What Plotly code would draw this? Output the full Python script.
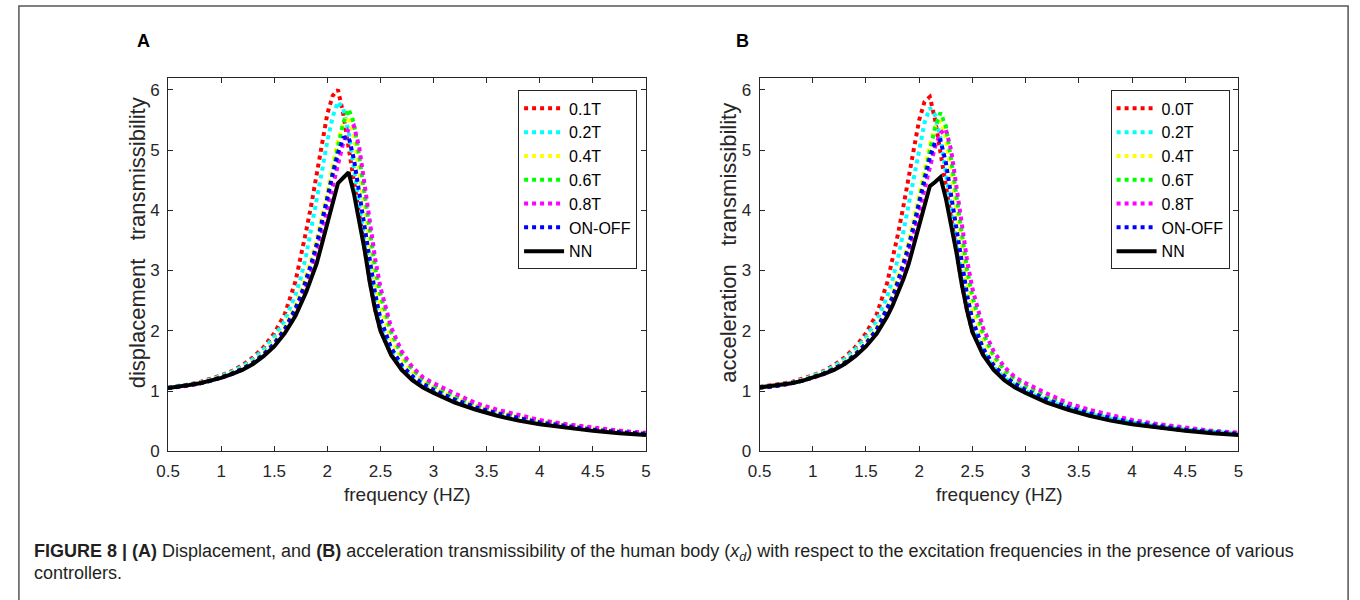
import plotly.graph_objects as go

# ---------------- data ----------------
freq = [0.5, 0.6, 0.7, 0.8, 0.9, 1.0, 1.1, 1.2, 1.3, 1.4,
        1.5, 1.6, 1.7, 1.75, 1.8, 1.85, 1.9, 1.95, 2.0, 2.05,
        2.1, 2.15, 2.2, 2.25, 2.3, 2.35, 2.4, 2.45, 2.5, 2.6,
        2.7, 2.8, 2.9, 3.0, 3.2, 3.4, 3.6, 3.8, 4.0, 4.25,
        4.5, 4.75, 5.0]

x_ticks = [0.5, 1, 1.5, 2, 2.5, 3, 3.5, 4, 4.5, 5]
x_tick_labels = ["0.5", "1", "1.5", "2", "2.5", "3", "3.5", "4", "4.5", "5"]
y_ticks = [0, 1, 2, 3, 4, 5, 6]
y_tick_labels = ["0", "1", "2", "3", "4", "5", "6"]

labels_a = ["0.1T", "0.2T", "0.4T", "0.6T", "0.8T", "ON-OFF", "NN"]
labels_b = ["0.0T", "0.2T", "0.4T", "0.6T", "0.8T", "ON-OFF", "NN"]

# Panel A: displacement transmissibility
disp_01T = [1.06, 1.08, 1.11, 1.15, 1.20, 1.26, 1.33, 1.43, 1.56, 1.73,
            1.96, 2.28, 2.82, 3.20, 3.65, 4.10, 4.60, 5.15, 5.60, 5.90,
            6.00, 5.60, 5.05, 4.50, 3.90, 3.35, 2.82, 2.36, 2.01, 1.61,
            1.36, 1.19, 1.07, 0.98, 0.82, 0.70, 0.60, 0.52, 0.46, 0.40,
            0.35, 0.31, 0.28]
disp_02T = [1.06, 1.08, 1.11, 1.14, 1.19, 1.25, 1.32, 1.41, 1.53, 1.69,
            1.90, 2.17, 2.60, 2.88, 3.25, 3.70, 4.15, 4.65, 5.15, 5.55,
            5.80, 5.68, 5.30, 4.75, 4.10, 3.50, 2.95, 2.50, 2.10, 1.67,
            1.40, 1.22, 1.10, 1.00, 0.84, 0.72, 0.62, 0.54, 0.48, 0.41,
            0.36, 0.32, 0.29]
disp_04T = [1.05, 1.07, 1.10, 1.14, 1.18, 1.24, 1.30, 1.38, 1.49, 1.63,
            1.82, 2.07, 2.42, 2.65, 2.92, 3.20, 3.52, 3.90, 4.30, 4.75,
            5.15, 5.45, 5.55, 5.25, 4.65, 4.00, 3.40, 2.85, 2.40, 1.87,
            1.54, 1.32, 1.17, 1.06, 0.89, 0.76, 0.65, 0.57, 0.50, 0.43,
            0.38, 0.33, 0.30]
disp_06T = [1.05, 1.07, 1.10, 1.13, 1.17, 1.23, 1.29, 1.37, 1.47, 1.60,
            1.78, 2.02, 2.35, 2.57, 2.82, 3.10, 3.42, 3.80, 4.20, 4.62,
            5.05, 5.45, 5.68, 5.45, 4.90, 4.25, 3.60, 3.05, 2.60, 1.98,
            1.60, 1.36, 1.20, 1.09, 0.91, 0.78, 0.67, 0.58, 0.51, 0.44,
            0.38, 0.34, 0.30]
disp_08T = [1.05, 1.07, 1.09, 1.13, 1.17, 1.22, 1.28, 1.36, 1.46, 1.59,
            1.76, 1.99, 2.30, 2.50, 2.74, 3.00, 3.30, 3.65, 4.02, 4.40,
            4.80, 5.12, 5.35, 5.40, 5.05, 4.45, 3.80, 3.20, 2.72, 2.06,
            1.66, 1.40, 1.23, 1.13, 0.96, 0.80, 0.69, 0.60, 0.52, 0.45,
            0.39, 0.34, 0.31]
disp_onoff = [1.05, 1.07, 1.10, 1.13, 1.17, 1.23, 1.29, 1.37, 1.47, 1.61,
              1.79, 2.03, 2.37, 2.58, 2.84, 3.12, 3.44, 3.80, 4.20, 4.60,
              4.95, 5.20, 5.22, 4.85, 4.30, 3.70, 3.12, 2.62, 2.20, 1.72,
              1.43, 1.25, 1.12, 1.02, 0.86, 0.73, 0.63, 0.55, 0.48, 0.42,
              0.36, 0.32, 0.29]
disp_nn = [1.05, 1.07, 1.10, 1.13, 1.17, 1.22, 1.28, 1.35, 1.45, 1.58,
           1.74, 1.96, 2.25, 2.43, 2.64, 2.88, 3.12, 3.45, 3.80, 4.12,
           4.45, 4.54, 4.63, 4.28, 3.85, 3.35, 2.80, 2.35, 2.00, 1.60,
           1.35, 1.18, 1.06, 0.97, 0.81, 0.69, 0.59, 0.51, 0.45, 0.39,
           0.34, 0.30, 0.27]

# Panel B: acceleration transmissibility
acc_00T = [1.07, 1.09, 1.12, 1.15, 1.20, 1.26, 1.33, 1.43, 1.56, 1.73,
           1.96, 2.27, 2.80, 3.17, 3.60, 4.05, 4.55, 5.05, 5.50, 5.80,
           5.88, 5.50, 4.95, 4.40, 3.82, 3.30, 2.79, 2.34, 1.99, 1.61,
           1.36, 1.19, 1.07, 0.98, 0.82, 0.70, 0.60, 0.52, 0.46, 0.40,
           0.35, 0.31, 0.28]
acc_02T = [1.07, 1.08, 1.11, 1.14, 1.19, 1.25, 1.32, 1.41, 1.53, 1.69,
           1.89, 2.16, 2.57, 2.85, 3.20, 3.63, 4.08, 4.57, 5.05, 5.45,
           5.70, 5.58, 5.20, 4.67, 4.05, 3.45, 2.92, 2.47, 2.08, 1.66,
           1.40, 1.22, 1.10, 1.00, 0.84, 0.72, 0.62, 0.54, 0.48, 0.41,
           0.36, 0.32, 0.29]
acc_04T = [1.06, 1.07, 1.10, 1.14, 1.18, 1.24, 1.30, 1.38, 1.49, 1.63,
           1.82, 2.06, 2.40, 2.63, 2.89, 3.17, 3.48, 3.85, 4.25, 4.68,
           5.08, 5.38, 5.48, 5.20, 4.60, 3.96, 3.36, 2.83, 2.38, 1.86,
           1.54, 1.31, 1.17, 1.06, 0.89, 0.76, 0.65, 0.57, 0.50, 0.43,
           0.38, 0.33, 0.30]
acc_06T = [1.06, 1.07, 1.10, 1.13, 1.17, 1.23, 1.29, 1.37, 1.47, 1.60,
           1.78, 2.01, 2.34, 2.55, 2.80, 3.07, 3.38, 3.75, 4.15, 4.56,
           4.98, 5.38, 5.62, 5.40, 4.85, 4.20, 3.56, 3.02, 2.57, 1.96,
           1.59, 1.35, 1.20, 1.09, 0.91, 0.78, 0.67, 0.58, 0.51, 0.44,
           0.38, 0.34, 0.30]
acc_08T = [1.06, 1.07, 1.09, 1.13, 1.17, 1.22, 1.28, 1.36, 1.46, 1.59,
           1.76, 1.98, 2.29, 2.48, 2.72, 2.97, 3.27, 3.60, 3.97, 4.35,
           4.74, 5.06, 5.28, 5.35, 5.00, 4.40, 3.76, 3.17, 2.70, 2.05,
           1.66, 1.40, 1.23, 1.13, 0.96, 0.80, 0.69, 0.60, 0.52, 0.45,
           0.39, 0.34, 0.31]
acc_onoff = [1.06, 1.07, 1.10, 1.13, 1.17, 1.23, 1.29, 1.37, 1.47, 1.61,
             1.79, 2.02, 2.36, 2.56, 2.82, 3.09, 3.40, 3.75, 4.15, 4.55,
             4.88, 5.13, 5.16, 4.80, 4.25, 3.66, 3.09, 2.60, 2.18, 1.71,
             1.43, 1.25, 1.12, 1.02, 0.86, 0.73, 0.63, 0.55, 0.48, 0.42,
             0.36, 0.32, 0.29]
acc_nn = [1.06, 1.08, 1.10, 1.13, 1.17, 1.22, 1.28, 1.35, 1.45, 1.58,
          1.74, 1.95, 2.24, 2.42, 2.62, 2.85, 3.10, 3.42, 3.75, 4.07,
          4.40, 4.47, 4.55, 4.20, 3.78, 3.30, 2.77, 2.33, 1.98, 1.60,
          1.35, 1.18, 1.06, 0.97, 0.81, 0.69, 0.59, 0.51, 0.45, 0.39,
          0.34, 0.30, 0.27]

series_a = [disp_01T, disp_02T, disp_04T, disp_06T, disp_08T, disp_onoff, disp_nn]
series_b = [acc_00T, acc_02T, acc_04T, acc_06T, acc_08T, acc_onoff, acc_nn]

colors = ["#FF0000", "#00FFFF", "#FFFF00", "#00FF00", "#FF00FF", "#0000FF", "#000000"]

# ---------------- figure ----------------
W, H = 1360, 600
FONT = "Liberation Sans, Arial, sans-serif"
AX = "#262626"

def px(x):
    return x / W

def py(y):
    return 1 - y / H

fig = go.Figure()

for name, ys, c in zip(labels_a, series_a, colors):
    is_nn = name == "NN"
    fig.add_trace(go.Scatter(
        x=freq, y=ys, mode="lines", name=name,
        line=dict(color=c, width=4, dash="solid" if is_nn else "4px,4px"),
        xaxis="x", yaxis="y", legend="legend"))

for name, ys, c in zip(labels_b, series_b, colors):
    is_nn = name == "NN"
    fig.add_trace(go.Scatter(
        x=freq, y=ys, mode="lines", name=name,
        line=dict(color=c, width=4, dash="solid" if is_nn else "4px,4px"),
        xaxis="x2", yaxis="y2", legend="legend2"))

ydom = [py(459), py(79)]
common_x = dict(range=[0.5, 5], tickmode="array", tickvals=x_ticks, ticktext=x_tick_labels,
                ticks="inside", ticklen=5, tickcolor=AX, showline=True, linecolor=AX,
                linewidth=1, mirror="ticks", showgrid=False, zeroline=False,
                ticklabelstandoff=4,
                tickfont=dict(family=FONT, size=17, color=AX))
common_y = dict(range=[0, 6.2], tickmode="array", tickvals=y_ticks, ticktext=y_tick_labels,
                ticks="inside", ticklen=5, tickcolor=AX, showline=True, linecolor=AX,
                linewidth=1, mirror="ticks", showgrid=False, zeroline=False,
                ticklabelstandoff=4,
                tickfont=dict(family=FONT, size=17, color=AX), domain=ydom)

legend_common = dict(yanchor="top", xanchor="right", bgcolor="white",
                     bordercolor=AX, borderwidth=1,
                     font=dict(family=FONT, size=16, color="black"),
                     tracegroupgap=0, itemwidth=40)

fig.update_layout(
    width=W, height=H, margin=dict(l=0, r=0, t=0, b=0),
    paper_bgcolor="white", plot_bgcolor="white",
    xaxis=dict(domain=[px(158), px(642)], anchor="y", **common_x),
    yaxis=dict(anchor="x", **common_y),
    xaxis2=dict(domain=[px(757), px(1242)], anchor="y2", **common_x),
    yaxis2=dict(anchor="x2", **common_y),
    legend=dict(x=px(633), y=py(92), **legend_common),
    legend2=dict(x=px(1233), y=py(92), **legend_common),
)

annotations = [
    dict(text="<b>A</b>", x=px(133), y=py(42), font=dict(size=18)),
    dict(text="<b>B</b>", x=px(740), y=py(42), font=dict(size=18)),
    dict(text="frequency (HZ)", x=px(400), y=py(503), font=dict(size=19, color=AX)),
    dict(text="frequency (HZ)", x=px(1000), y=py(503), font=dict(size=19, color=AX)),
    dict(text="displacement   transmissibility", x=px(127), y=py(247), textangle=-90,
         font=dict(size=22, color=AX)),
    dict(text="acceleration   transmissibility", x=px(726), y=py(247), textangle=-90,
         font=dict(size=22, color=AX)),
    dict(text="<b>FIGURE 8 | (A)</b> Displacement, and <b>(B)</b> acceleration transmissibility "
              "of the human body (<i>x<sub>d</sub></i>) with respect to the excitation frequencies "
              "in the presence of various",
         x=px(20), y=py(562), xanchor="left", font=dict(size=18, color="#231f20")),
    dict(text="controllers.", x=px(20), y=py(583), xanchor="left",
         font=dict(size=18, color="#231f20")),
]
for a in annotations:
    a.setdefault("xref", "paper")
    a.setdefault("yref", "paper")
    a.setdefault("showarrow", False)
    a.setdefault("xanchor", "center")
    a.setdefault("yanchor", "middle")
    a["font"].setdefault("family", FONT)
    a["font"].setdefault("color", "black")
fig.update_layout(annotations=annotations)

# outer frame
fig.add_shape(type="rect", xref="paper", yref="paper",
              x0=px(7), x1=px(1353), y0=-0.02, y1=py(6),
              line=dict(color="#555555", width=1.5), fillcolor="rgba(0,0,0,0)", layer="below")

fig.write_html("out.html", config={"displayModeBar": False},
               post_script="document.body.style.margin='0';")
